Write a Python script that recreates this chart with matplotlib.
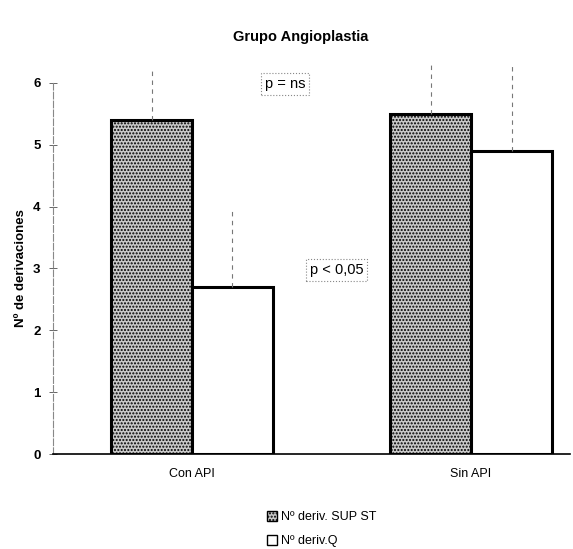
import numpy as np
import matplotlib.pyplot as plt
from matplotlib.patches import Patch

plt.rcParams['font.family'] = ['Liberation Sans', 'DejaVu Sans']
plt.rcParams['hatch.color'] = '#3a3a3a'
plt.rcParams['hatch.linewidth'] = 1.0

groups = ['Con API', 'Sin API']
series_names = ['Nº deriv. SUP ST', 'Nº deriv.Q']
sup_st = [5.4, 5.5]
deriv_q = [2.7, 4.9]
# upper error only (dashed whiskers)
sup_st_err = [0.8, 0.85]
deriv_q_err = [1.3, 1.4]
y_ticks = [0, 1, 2, 3, 4, 5, 6]

fig = plt.figure(figsize=(5.73, 5.49), dpi=100)
ax = fig.add_axes([0.0925, 0.173, 0.9025, 0.676])

x = np.arange(len(groups))
w = 0.29

b1 = ax.bar(x - w / 2, sup_st, w, facecolor='#c9c9c9', edgecolor='black',
            linewidth=2.2, hatch='.....',
            yerr=[np.zeros(2), sup_st_err],
            error_kw=dict(ecolor='#777777', elinewidth=0.8, capsize=0))
b2 = ax.bar(x + w / 2, deriv_q, w, facecolor='white', edgecolor='black',
            linewidth=2.2,
            yerr=[np.zeros(2), deriv_q_err],
            error_kw=dict(ecolor='#777777', elinewidth=0.8, capsize=0))
for b in (b1, b2):
    for lc in b.errorbar.lines[2]:
        lc.set_linestyle((0, (4, 4)))
        lc.set_clip_on(False)

ax.set_xlim(-0.498, 1.355)
ax.set_ylim(0, 6)
ax.set_yticks(y_ticks)
ax.set_yticklabels([str(t) for t in y_ticks], fontsize=9.5, fontweight='bold')
ax.set_xticks(x)
ax.set_xticklabels(groups, fontsize=9)
ax.tick_params(axis='x', length=0, pad=10)
ax.tick_params(axis='y', direction='inout', length=6, width=0.7, color='#666666', pad=6)

for s in ['top', 'right']:
    ax.spines[s].set_visible(False)
ax.spines['left'].set_color('#888888')
ax.spines['left'].set_linestyle((0, (6, 2)))
ax.spines['left'].set_linewidth(0.8)
ax.spines['bottom'].set_linewidth(1.2)

ax.set_ylabel('Nº de derivaciones', fontsize=9.5, fontweight='bold', labelpad=4)
fig.text(0.524, 0.932, 'Grupo Angioplastia', ha='center', va='center',
         fontsize=10.5, fontweight='bold')

box = dict(boxstyle='square,pad=0.25', facecolor='white', edgecolor='#888888',
           linestyle=':', linewidth=0.8)
fig.text(0.497, 0.847, 'p = ns', ha='center', va='center', fontsize=10.5, bbox=box)
fig.text(0.588, 0.508, 'p < 0,05', ha='center', va='center', fontsize=10.5, bbox=box)

handles = [Patch(facecolor='#c9c9c9', edgecolor='black', hatch='.....'),
           Patch(facecolor='white', edgecolor='black')]
fig.legend(handles, series_names, loc='upper left', bbox_to_anchor=(0.458, 0.078),
           frameon=False, fontsize=9, handlelength=0.8, handleheight=0.8,
           handletextpad=0.3, labelspacing=0.95, borderaxespad=0)

fig.savefig('out.png', dpi=100)
